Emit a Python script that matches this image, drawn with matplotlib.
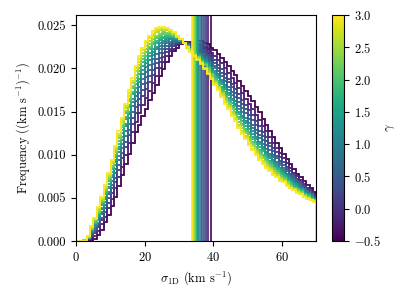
import numpy as np
import matplotlib
matplotlib.use("Agg")
import matplotlib.pyplot as plt
from matplotlib import cm, colors

plt.rcParams['font.family'] = 'serif'
plt.rcParams['font.serif'] = ['cmr10']
plt.rcParams['mathtext.fontset'] = 'cm'
plt.rcParams['axes.formatter.use_mathtext'] = True
plt.rcParams['font.size'] = 9

## histogram bins of 1 km/s, frequencies in units of 1e-4 per (km/s)
edges = np.arange(0, 71, 1)
gammas = [-0.5, -0.25, 0.0, 0.25, 0.5, 0.75, 1.0, 1.25, 1.5, 1.75, 2.0, 2.25, 2.5, 2.75, 3.0]
means = [39.3, 38.4, 37.7, 37.2, 36.7, 36.3, 35.9, 35.6, 35.3, 35.0, 34.7, 34.5, 34.2, 34.0, 33.8]

h_m050 = [0, 0, 0, 0, 0, 2, 7, 13, 22, 30, 41, 51, 64, 76, 89, 101, 114, 126, 135, 145,
          153, 163, 171, 181, 191, 199, 208, 214, 220, 224, 228, 230, 231, 231, 232, 232, 232, 230, 228, 224,
          221, 217, 212, 208, 203, 197, 192, 186, 180, 174, 168, 162, 155, 149, 141, 135, 127, 121, 114, 108,
          101, 95, 89, 83, 78, 74, 69, 65, 61, 57]
h_m025 = [0, 0, 1, 1, 2, 6, 12, 20, 28, 38, 49, 61, 74, 86, 100, 114, 126, 138, 148, 158,
          166, 174, 183, 191, 200, 208, 214, 220, 223, 227, 229, 231, 230, 230, 230, 228, 227, 225, 222, 218,
          214, 210, 206, 200, 195, 189, 183, 177, 171, 165, 159, 153, 146, 140, 133, 127, 120, 114, 108, 102,
          96, 90, 85, 79, 75, 71, 66, 62, 59, 55]
h_000 = [0, 0, 0, 2, 5, 9, 16, 24, 34, 44, 56, 68, 82, 96, 109, 123, 136, 148, 158, 168,
         176, 184, 192, 200, 207, 213, 219, 223, 226, 228, 230, 230, 229, 227, 227, 225, 224, 222, 218, 214,
         210, 204, 199, 193, 188, 182, 176, 170, 164, 158, 152, 146, 139, 133, 126, 120, 114, 108, 103, 97,
         92, 86, 81, 77, 72, 68, 64, 60, 57, 53]
h_025 = [0, 0, 0, 2, 6, 12, 19, 27, 38, 50, 61, 73, 88, 102, 115, 129, 143, 155, 165, 175,
         183, 191, 198, 206, 212, 218, 222, 226, 228, 230, 230, 230, 229, 227, 225, 223, 221, 219, 215, 211,
         206, 200, 195, 189, 184, 178, 172, 166, 159, 153, 146, 140, 134, 128, 122, 116, 110, 104, 99, 93,
         88, 84, 78, 74, 70, 66, 63, 59, 56, 52]
h_050 = [0, 0, 0, 2, 8, 14, 21, 31, 42, 54, 65, 79, 94, 108, 122, 136, 150, 162, 172, 182,
         190, 198, 205, 211, 218, 222, 226, 228, 231, 231, 231, 229, 228, 226, 224, 222, 219, 215, 212, 208,
         203, 197, 191, 185, 179, 173, 167, 161, 154, 148, 141, 135, 129, 123, 117, 111, 106, 100, 96, 90,
         85, 81, 76, 72, 68, 64, 61, 57, 55, 51]
h_075 = [0, 0, 0, 4, 10, 16, 24, 34, 45, 57, 70, 84, 99, 113, 128, 142, 156, 168, 178, 188,
         196, 204, 211, 217, 222, 226, 229, 231, 232, 232, 232, 230, 227, 225, 222, 220, 217, 213, 209, 205,
         200, 194, 187, 181, 175, 169, 162, 156, 149, 143, 137, 131, 125, 119, 113, 107, 101, 97, 92, 88,
         82, 78, 74, 70, 67, 63, 60, 56, 54, 50]
h_100 = [0, 0, 0, 4, 10, 18, 27, 37, 49, 61, 74, 88, 103, 117, 133, 147, 161, 173, 184, 194,
         202, 210, 216, 222, 226, 230, 232, 234, 233, 233, 232, 230, 226, 224, 222, 218, 215, 211, 206, 202,
         197, 191, 184, 178, 171, 165, 159, 153, 145, 139, 133, 127, 121, 115, 109, 103, 98, 94, 89, 85,
         80, 76, 72, 68, 65, 61, 58, 56, 53, 49]
h_125 = [0, 0, 0, 4, 11, 19, 28, 38, 51, 63, 77, 91, 107, 121, 136, 150, 165, 177, 188, 198,
         206, 214, 219, 225, 230, 232, 234, 234, 234, 234, 232, 230, 227, 223, 221, 217, 214, 210, 206, 200,
         195, 189, 182, 176, 169, 163, 156, 150, 143, 137, 130, 124, 118, 112, 107, 101, 96, 92, 87, 83,
         79, 75, 71, 67, 64, 60, 57, 55, 52, 48]
h_150 = [0, 0, 0, 4, 12, 20, 30, 42, 54, 66, 80, 94, 109, 125, 141, 155, 170, 182, 193, 203,
         210, 218, 223, 229, 233, 235, 237, 237, 236, 234, 232, 230, 226, 222, 219, 215, 212, 208, 204, 198,
         192, 186, 179, 173, 166, 160, 153, 147, 139, 133, 126, 120, 115, 109, 104, 98, 93, 89, 85, 81,
         77, 73, 69, 65, 62, 60, 56, 54, 51, 49]
h_175 = [0, 0, 0, 4, 13, 21, 31, 43, 55, 69, 83, 97, 113, 129, 144, 158, 173, 185, 197, 207,
         214, 222, 228, 232, 235, 237, 238, 238, 237, 235, 233, 229, 226, 222, 218, 214, 210, 206, 202, 196,
         190, 184, 176, 170, 163, 157, 150, 144, 136, 130, 124, 118, 112, 106, 100, 96, 91, 87, 83, 79,
         75, 71, 68, 64, 61, 59, 55, 53, 50, 48]
h_200 = [0, 0, 1, 5, 14, 22, 33, 45, 57, 71, 86, 100, 116, 132, 148, 162, 177, 189, 201, 211,
         219, 225, 231, 235, 238, 240, 240, 240, 238, 236, 234, 230, 226, 222, 217, 213, 209, 205, 200, 194,
         188, 182, 174, 168, 161, 155, 147, 141, 134, 128, 121, 115, 109, 103, 98, 94, 89, 85, 81, 77,
         73, 69, 66, 62, 60, 58, 54, 52, 49, 47]
h_225 = [0, 0, 1, 5, 14, 24, 34, 46, 59, 73, 87, 103, 119, 135, 151, 165, 180, 192, 204, 214,
         222, 228, 234, 238, 240, 242, 241, 241, 239, 237, 234, 230, 225, 221, 217, 213, 208, 204, 199, 193,
         186, 180, 172, 166, 159, 153, 146, 138, 131, 125, 118, 112, 107, 101, 96, 92, 87, 83, 79, 75,
         72, 68, 64, 62, 59, 57, 53, 51, 49, 47]
h_250 = [0, 0, 1, 5, 15, 25, 36, 48, 61, 75, 90, 106, 122, 138, 154, 168, 183, 197, 208, 218,
         226, 232, 238, 242, 244, 244, 244, 242, 240, 238, 234, 230, 225, 221, 216, 212, 207, 201, 197, 191,
         184, 178, 171, 163, 157, 149, 143, 135, 128, 122, 116, 110, 104, 98, 93, 89, 85, 81, 77, 73,
         71, 67, 64, 60, 58, 56, 52, 50, 48, 46]
h_275 = [0, 0, 0, 6, 16, 26, 38, 50, 63, 77, 92, 108, 124, 140, 156, 172, 186, 200, 211, 221,
         229, 235, 240, 244, 246, 246, 246, 244, 241, 237, 234, 230, 224, 220, 215, 211, 206, 200, 195, 189,
         183, 177, 169, 161, 155, 147, 141, 133, 126, 120, 113, 107, 102, 96, 91, 87, 83, 79, 76, 72,
         69, 65, 62, 60, 57, 55, 52, 50, 48, 46]
h_300 = [0, 0, 0, 6, 17, 27, 39, 51, 65, 79, 94, 110, 127, 143, 159, 175, 189, 203, 214, 224,
         232, 238, 243, 247, 248, 248, 247, 245, 242, 238, 234, 230, 225, 219, 214, 210, 205, 199, 194, 188,
         181, 175, 167, 159, 153, 145, 139, 131, 124, 118, 111, 105, 100, 94, 89, 85, 81, 77, 74, 70,
         68, 64, 61, 59, 56, 54, 51, 49, 47, 45]

hists = [h_m050, h_m025, h_000, h_025, h_050, h_075, h_100, h_125,
         h_150, h_175, h_200, h_225, h_250, h_275, h_300]

fig = plt.figure(figsize=(3.99, 2.99), dpi=100)
ax = fig.add_axes([0.191, 0.194, 0.602, 0.756])
cax = fig.add_axes([332/399, 0.194, 12/399, 0.756])

norm = colors.Normalize(vmin=-0.5, vmax=3.0)
cmap = plt.get_cmap('viridis')

for g, h, m in zip(gammas, hists, means):
    c = cmap(norm(g))
    ax.hist(edges[:-1], bins=edges, weights=np.array(h)*1e-4, histtype='step', color=c, lw=1.3)
    ax.axvline(m, color=c, lw=1.2)

ax.set_xlim(0, 70)
ax.set_ylim(0, 0.0262)
ax.set_xticks([0, 20, 40, 60])
ax.set_yticks([0, 0.005, 0.01, 0.015, 0.02, 0.025])
ax.set_yticklabels(['0.000', '0.005', '0.010', '0.015', '0.020', '0.025'])
ax.set_xlabel(r'$\sigma_{\rm 1D}$ (km s$^{-1}$)')
ax.set_ylabel(r'Frequency ((km s$^{-1}$)$^{-1}$)')

sm = cm.ScalarMappable(norm=norm, cmap=cmap)
cb = fig.colorbar(sm, cax=cax, ticks=np.arange(-0.5, 3.01, 0.5))
cb.set_label(r'$\gamma$', labelpad=3)

fig.savefig("out.png", dpi=100)
